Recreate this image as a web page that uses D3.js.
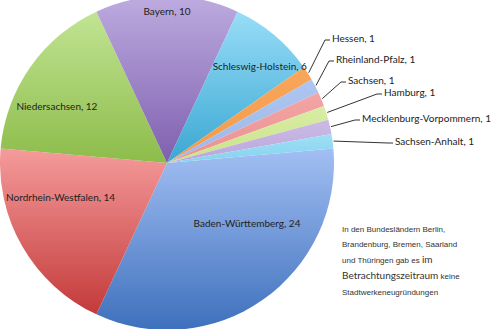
<!DOCTYPE html>
<html>
<head>
<meta charset="utf-8">
<script src="https://cdn.jsdelivr.net/npm/d3@7"></script>
<style>
  html, body { margin: 0; padding: 0; background: #fff; }
  svg { display: block; }
</style>
</head>
<body>
<div id="chart"></div>
<script>
const categories = ['Baden-Württemberg', 'Nordrhein-Westfalen', 'Niedersachsen', 'Bayern', 'Schleswig-Holstein',
  'Hessen', 'Rheinland-Pfalz', 'Sachsen', 'Hamburg', 'Mecklenburg-Vorpommern', 'Sachsen-Anhalt'];
const values = [24, 14, 12, 10, 6, 1, 1, 1, 1, 1, 1];
const noteLines = [
  [['In den Bundesländern Berlin,', 8]],
  [['Brandenburg, Bremen, Saarland', 8]],
  [['und Thüringen gab es ', 8], ['im', 10]],
  [['Betrachtungszeitraum', 10], [' keine', 8]],
  [['Stadtwerkeneugründungen', 8]]
];

// gradient stops per slice (top, bottom)
const topColors = ['#a2bff3', '#f59b9b', '#c1e493', '#bdabe0', '#98ddf8', '#f9a65c', '#aec6f0', '#f3a5a5', '#d8eda4', '#cbbae5', '#9fdff5'];
const bottomColors = ['#3e70bc', '#c43a3a', '#8dbc4a', '#7f5fae', '#3aa7d2', '#f39a48', '#9bb7ea', '#eb9090', '#c9e38a', '#bba6dc', '#86d2ef'];

// label placement: inside labels as [radius fraction, angle deg], callouts as text anchor [x, y]
const insidePos = [[0.6, 127], [0.67, 252], [0.74, 297], [0.905, 0], [0.8, 44]];
const calloutPos = [[332, 39], [336, 60], [348, 81], [384, 93], [362, 119], [395, 142]];

const W = 493, H = 329;
const cx = 167, cy = 163, R = 167;
const rad = Math.PI / 180;

const svg = d3.select('#chart').append('svg').attr('width', W).attr('height', H);
const defs = svg.append('defs');
categories.forEach((c, i) => {
  const g = defs.append('linearGradient').attr('id', 'g' + i)
    .attr('x1', 0).attr('y1', 0).attr('x2', 0).attr('y2', 1);
  g.append('stop').attr('offset', '0%').attr('stop-color', topColors[i]);
  g.append('stop').attr('offset', '100%').attr('stop-color', bottomColors[i]);
});

const pie = d3.pie().sort(null).value(d => d.v)
  .startAngle(85 * rad).endAngle(445 * rad);
const data = pie(categories.map((c, i) => ({ c, v: values[i], i })));
const arc = d3.arc().innerRadius(0).outerRadius(R);

const g = svg.append('g').attr('transform', `translate(${cx},${cy})`);
g.selectAll('path.slice').data(data).join('path')
  .attr('class', 'slice')
  .attr('d', arc)
  .attr('fill', d => `url(#g${d.data.i})`);

const font = 'Lato, "Open Sans", sans-serif';

// inside labels
g.selectAll('text.inside').data(data.slice(0, insidePos.length)).join('text')
  .attr('class', 'inside')
  .attr('x', (d, i) => insidePos[i][0] * R * Math.sin(insidePos[i][1] * rad))
  .attr('y', (d, i) => -insidePos[i][0] * R * Math.cos(insidePos[i][1] * rad))
  .attr('text-anchor', 'middle').attr('dy', '0.35em')
  .style('font-family', font).style('font-size', '10px').style('fill', '#222')
  .text(d => `${d.data.c}, ${d.data.v}`);

// callout labels for the small slices
const small = data.slice(insidePos.length);
small.forEach((d, k) => {
  const a = (d.startAngle + d.endAngle) / 2;
  const sx = cx + (R + 1) * Math.sin(a), sy = cy - (R + 1) * Math.cos(a);
  const [tx, ty] = calloutPos[k];
  svg.append('path')
    .attr('d', d3.line()([[sx, sy], [tx - 7, ty + 1], [tx - 2, ty + 1]]))
    .attr('fill', 'none').attr('stroke', '#333').attr('stroke-width', 1);
  svg.append('text')
    .attr('x', tx).attr('y', ty).attr('dy', '0.3em')
    .style('font-family', font).style('font-size', '10px').style('fill', '#222')
    .text(`${d.data.c}, ${d.data.v}`);
});

// note text
const note = svg.append('g').attr('transform', 'translate(342,226)');
noteLines.forEach((parts, li) => {
  const t = note.append('text').attr('x', 0).attr('y', li * 15.8).attr('dy', '0.35em')
    .style('fill', '#333');
  parts.forEach(([s, size]) => {
    t.append('tspan').text(s)
      .style('font-size', size + 'px')
      .style('font-family', size > 8 ? font : '"Liberation Sans", Arial, sans-serif');
  });
});
</script>
</body>
</html>
